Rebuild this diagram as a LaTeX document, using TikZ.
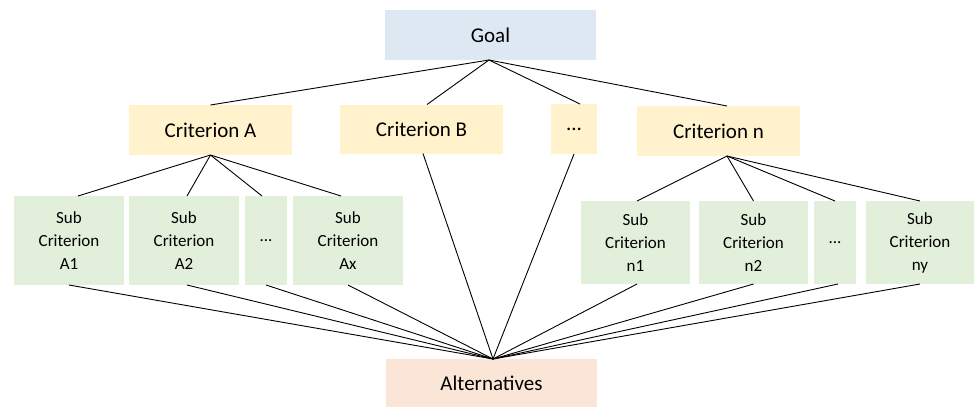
\documentclass[tikz,border=0pt]{standalone}
\usepackage{fontspec}
\setmainfont{Carlito}
\definecolor{goalc}{HTML}{DEE8F3}
\definecolor{critc}{HTML}{FFF2CC}
\definecolor{subc}{HTML}{E2EFDA}
\definecolor{altc}{HTML}{FBE5D6}
\tikzset{
  box/.style={inner sep=0pt, outer sep=0pt, anchor=center, align=center},
  goalbox/.style={box, fill=goalc, minimum width=211pt, minimum height=50pt, font=\fontsize{21}{25}\selectfont},
  critbox/.style={box, fill=critc, minimum height=50pt, font=\fontsize{21}{25}\selectfont},
  subbox/.style={box, fill=subc, font=\fontsize{17}{23}\selectfont},
  altbox/.style={box, fill=altc, minimum width=211pt, minimum height=48pt, font=\fontsize{21}{25}\selectfont},
  link/.style={draw=black, line width=0.9pt}
}
\begin{document}
\begin{tikzpicture}[x=1pt, y=-1pt]
\useasboundingbox (0,0) rectangle (974,407);
% top
\node[goalbox] (goal) at (490.5,35) {Goal};
% criteria
\node[critbox, minimum width=163pt] (critA) at (210.5,130) {Criterion A};
\node[critbox, minimum width=163pt, minimum height=49pt] (critB) at (421.5,129) {Criterion B};
\node[critbox, minimum width=46pt] (critD) at (574,129) {...};
\node[critbox, minimum width=163pt] (critN) at (718.5,131) {Criterion n};
% sub criteria A
\node[subbox, minimum width=110pt, minimum height=89pt] (A1) at (69,240.5) {Sub\\Criterion\\A1};
\node[subbox, minimum width=110pt, minimum height=89pt] (A2) at (184,240.5) {Sub\\Criterion\\A2};
\node[subbox, minimum width=42pt, minimum height=89pt] (AD) at (266,240.5) {...};
\node[subbox, minimum width=110pt, minimum height=89pt] (Ax) at (348,240.5) {Sub\\Criterion\\Ax};
% sub criteria n
\node[subbox, minimum width=109pt, minimum height=83pt] (n1) at (635.5,242.5) {Sub\\Criterion\\n1};
\node[subbox, minimum width=109pt, minimum height=83pt] (n2) at (753.5,242.5) {Sub\\Criterion\\n2};
\node[subbox, minimum width=42pt, minimum height=83pt] (nD) at (835,242.5) {...};
\node[subbox, minimum width=108pt, minimum height=83pt] (ny) at (920,242.5) {Sub\\Criterion\\ny};
% alternatives
\node[altbox] (alt) at (491.5,383) {Alternatives};
% goal -> criteria
\draw[link] ([xshift=-1.5pt]goal.south) -- (critA.north);
\draw[link] ([xshift=-1.5pt]goal.south) -- ([xshift=5.5pt]critB.north);
\draw[link] ([xshift=-1.5pt]goal.south) -- ([xshift=6pt]critD.north);
\draw[link] ([xshift=-1.5pt]goal.south) -- ([xshift=8.5pt]critN.north);
% criterion A -> subs
\draw[link] (critA.south) -- ([xshift=9pt]A1.north);
\draw[link] (critA.south) -- ([xshift=3pt]A2.north);
\draw[link] (critA.south) -- ([xshift=-4pt]AD.north);
\draw[link] (critA.south) -- ([xshift=-7pt]Ax.north);
% criterion n -> subs
\draw[link] ([xshift=8.5pt]critN.south) -- ([xshift=1.5pt]n1.north);
\draw[link] ([xshift=8.5pt]critN.south) -- (n2.north);
\draw[link] ([xshift=8.5pt]critN.south) -- (nD.north);
\draw[link] ([xshift=8.5pt]critN.south) -- (ny.north);
% to alternatives
\draw[link] (A1.south) -- ([xshift=1.5pt]alt.north);
\draw[link] ([xshift=3pt]A2.south) -- ([xshift=1.5pt]alt.north);
\draw[link] (AD.south) -- ([xshift=1.5pt]alt.north);
\draw[link] (Ax.south) -- ([xshift=1.5pt]alt.north);
\draw[link] ([xshift=1.5pt]critB.south) -- ([xshift=1.5pt]alt.north);
\draw[link] (critD.south) -- ([xshift=1.5pt]alt.north);
\draw[link] ([xshift=1.5pt]n1.south) -- ([xshift=1.5pt]alt.north);
\draw[link] (n2.south) -- ([xshift=1.5pt]alt.north);
\draw[link] ([xshift=3pt]nD.south) -- ([xshift=1.5pt]alt.north);
\draw[link] (ny.south) -- ([xshift=1.5pt]alt.north);
\end{tikzpicture}
\end{document}
